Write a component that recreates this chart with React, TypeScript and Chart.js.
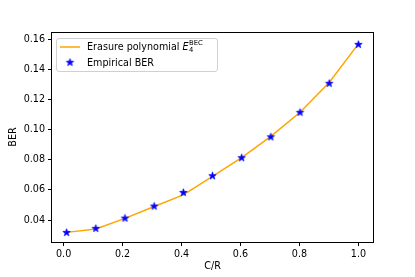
import React, { useEffect, useRef } from "react";
import { Chart, registerables } from "chart.js";

Chart.register(...registerables);

const xValues = [0.01, 0.109, 0.208, 0.307, 0.406, 0.505, 0.604, 0.703, 0.802, 0.901, 1.0];
const polyValues = [0.0318, 0.0341, 0.0411, 0.049, 0.0567, 0.069, 0.0815, 0.0957, 0.1117, 0.1315, 0.1572];
const empiricalValues = [0.0318, 0.0345, 0.0413, 0.0493, 0.0584, 0.0695, 0.0815, 0.0954, 0.1117, 0.131, 0.1569];
const xTicks = [0.0, 0.2, 0.4, 0.6, 0.8, 1.0];
const yTicks = [0.04, 0.06, 0.08, 0.1, 0.12, 0.14, 0.16];
const seriesLabels = ["Erasure polynomial ", "Empirical BER"];
const xTitle = "C/R";
const yTitle = "BER";

const FONT = "DejaVu Sans";
const ORANGE = "#FFA500";
const BLUE = "#0000FF";

function makeStar(): HTMLCanvasElement {
  const c = document.createElement("canvas");
  c.width = 11;
  c.height = 11;
  const g = c.getContext("2d")!;
  const cx = 5.5, cy = 5.7, ro = 3.9, ri = 3.9 * 0.382;
  g.beginPath();
  for (let i = 0; i < 10; i++) {
    const r = i % 2 === 0 ? ro : ri;
    const a = -Math.PI / 2 + (i * Math.PI) / 5;
    const px = cx + r * Math.cos(a);
    const py = cy + r * Math.sin(a);
    if (i === 0) g.moveTo(px, py);
    else g.lineTo(px, py);
  }
  g.closePath();
  g.fillStyle = BLUE;
  g.fill();
  g.strokeStyle = BLUE;
  g.lineWidth = 0.8;
  g.stroke();
  return c;
}

export default function App() {
  const ref = useRef<HTMLCanvasElement | null>(null);

  useEffect(() => {
    document.body.style.margin = "0";
    const star = makeStar();

    const overlay = {
      id: "overlay",
      afterDraw(chart: any) {
        const { ctx, chartArea } = chart;
        const { left, right, top, bottom } = chartArea;
        ctx.save();
        // frame
        ctx.strokeStyle = "#000";
        ctx.lineWidth = 1;
        ctx.strokeRect(left - 0.5, top + 0.5, right - left + 1, bottom - top);
        // axis titles
        ctx.fillStyle = "#000";
        ctx.font = `9.6px ${FONT}`;
        ctx.textAlign = "center";
        ctx.textBaseline = "middle";
        ctx.fillText(xTitle, (left + right) / 2, 266);
        ctx.save();
        ctx.translate(13, (top + bottom) / 2);
        ctx.rotate(-Math.PI / 2);
        ctx.fillText(yTitle, 0, 0);
        ctx.restore();

        // legend box
        const bx = 56.5, by = 38.5, bw = 161, bh = 33, r = 2.5;
        ctx.beginPath();
        ctx.moveTo(bx + r, by);
        ctx.lineTo(bx + bw - r, by);
        ctx.quadraticCurveTo(bx + bw, by, bx + bw, by + r);
        ctx.lineTo(bx + bw, by + bh - r);
        ctx.quadraticCurveTo(bx + bw, by + bh, bx + bw - r, by + bh);
        ctx.lineTo(bx + r, by + bh);
        ctx.quadraticCurveTo(bx, by + bh, bx, by + bh - r);
        ctx.lineTo(bx, by + r);
        ctx.quadraticCurveTo(bx, by, bx + r, by);
        ctx.closePath();
        ctx.fillStyle = "rgba(255,255,255,0.8)";
        ctx.fill();
        ctx.strokeStyle = "#d0d0d0";
        ctx.stroke();

        // entry 1
        ctx.strokeStyle = ORANGE;
        ctx.lineWidth = 1.5;
        ctx.beginPath();
        ctx.moveTo(60, 47);
        ctx.lineTo(80, 47);
        ctx.stroke();
        ctx.fillStyle = "#000";
        ctx.textAlign = "left";
        ctx.textBaseline = "middle";
        ctx.font = `9.6px ${FONT}`;
        const tx = 87;
        ctx.fillText(seriesLabels[0], tx, 47);
        const w = ctx.measureText(seriesLabels[0]).width;
        ctx.font = `italic 9.6px ${FONT}`;
        ctx.fillText("E", tx + w, 47);
        const we = ctx.measureText("E").width;
        ctx.font = `6.8px ${FONT}`;
        ctx.fillText("4", tx + w + we + 0.5, 50);
        ctx.fillText("BEC", tx + w + we + 0.5, 43);

        // entry 2
        ctx.drawImage(star, 70 - 5.5, 62.5 - 5.7);
        ctx.font = `9.6px ${FONT}`;
        ctx.fillText(seriesLabels[1], tx, 63);
        ctx.restore();
      },
    };

    const chart = new Chart(ref.current!, {
      type: "scatter",
      data: {
        datasets: [
          {
            label: seriesLabels[0],
            data: xValues.map((x, i) => ({ x, y: polyValues[i] })),
            showLine: true,
            borderColor: ORANGE,
            backgroundColor: ORANGE,
            borderWidth: 1.5,
            pointRadius: 0,
            order: 1,
          },
          {
            label: seriesLabels[1],
            data: xValues.map((x, i) => ({ x, y: empiricalValues[i] })),
            pointStyle: star as any,
            pointRadius: 5,
            order: 0,
          },
        ],
      },
      options: {
        responsive: false,
        animation: false,
        events: [],
        layout: { padding: { left: 0, top: 32, right: 42, bottom: 0 } },
        plugins: { legend: { display: false }, tooltip: { enabled: false } },
        scales: {
          x: {
            type: "linear",
            min: -0.0395,
            max: 1.0495,
            afterBuildTicks: (s: any) => {
              s.ticks = xTicks.map((v) => ({ value: v }));
            },
            afterFit: (s: any) => {
              s.height = 35;
            },
            grid: { drawOnChartArea: false, drawTicks: true, tickLength: 4, color: "#000", lineWidth: 1 },
            border: { display: false },
            ticks: {
              color: "#000",
              font: { family: FONT, size: 9.6 },
              padding: 3,
              maxRotation: 0,
              autoSkip: false,
              callback: (v: any) => Number(v).toFixed(1),
            },
          },
          y: {
            type: "linear",
            min: 0.0254,
            max: 0.1651,
            afterBuildTicks: (s: any) => {
              s.ticks = yTicks.map((v) => ({ value: v }));
            },
            afterFit: (s: any) => {
              s.width = 52;
            },
            grid: { drawOnChartArea: false, drawTicks: true, tickLength: 4, color: "#000", lineWidth: 1 },
            border: { display: false },
            ticks: {
              color: "#000",
              font: { family: FONT, size: 9.6 },
              padding: 3,
              autoSkip: false,
              callback: (v: any) => Number(v).toFixed(2),
            },
          },
        },
      },
      plugins: [overlay],
    });
    return () => chart.destroy();
  }, []);

  return (
    <div style={{ position: "absolute", left: 0, top: 0, width: 415, height: 277, background: "#fff" }}>
      <canvas ref={ref} width={415} height={277} style={{ display: "block", width: 415, height: 277 }} />
    </div>
  );
}
